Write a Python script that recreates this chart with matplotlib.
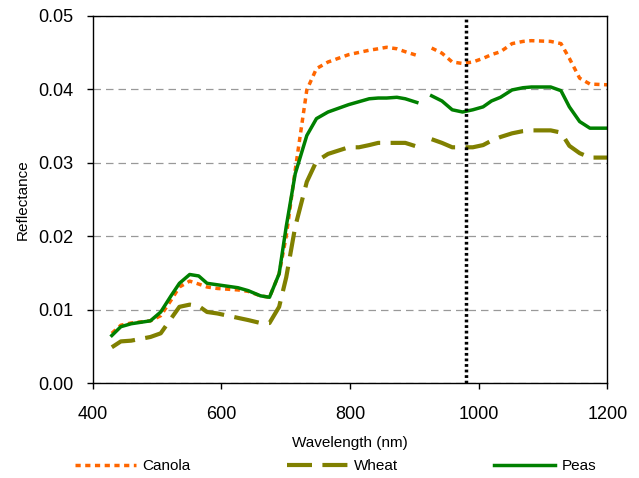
import numpy as np
import matplotlib.pyplot as plt

plt.rcParams['font.family'] = ['Liberation Sans', 'DejaVu Sans']

# wavelength grid (nm); nan marks the break in the spectra around 915 nm
wavelength = [430, 444, 460, 490, 506, 522, 535, 551, 565, 578, 594, 610, 626, 642, 661, 675,
              690, 701, 715, 733, 748, 766, 798, 814, 830, 844, 857, 873, 886, 904, 915,
              927, 943, 959, 975, 991, 1007, 1020, 1034, 1052, 1069, 1082, 1112, 1128, 1141,
              1157, 1173, 1200]

canola = [0.0068, 0.0079, 0.0082, 0.0085, 0.0092, 0.0113, 0.0131, 0.0139, 0.0135, 0.0131,
          0.0129, 0.0128, 0.0127, 0.0125, 0.0119, 0.0117, 0.0149, 0.0200, 0.0290, 0.0399,
          0.0428, 0.0437, 0.0447, 0.0450, 0.0453, 0.0455, 0.0457, 0.0455, 0.0451, 0.0446,
          np.nan, 0.0456, 0.0449, 0.0437, 0.0435, 0.0437, 0.0442, 0.0447, 0.0451, 0.0462,
          0.0465, 0.0466, 0.0465, 0.0462, 0.0442, 0.0415, 0.0407, 0.0406]

wheat = [0.0049, 0.0057, 0.0058, 0.0063, 0.0068, 0.0088, 0.0104, 0.0107, 0.0105, 0.0097,
         0.0095, 0.0092, 0.0089, 0.0086, 0.0082, 0.0082, 0.0104, 0.0144, 0.0213, 0.0274,
         0.0302, 0.0312, 0.0321, 0.0321, 0.0324, 0.0327, 0.0327, 0.0327, 0.0327, 0.0322,
         np.nan, 0.0332, 0.0327, 0.0321, 0.0321, 0.0321, 0.0324, 0.0330, 0.0335, 0.0340,
         0.0343, 0.0344, 0.0344, 0.0341, 0.0323, 0.0313, 0.0307, 0.0307]

peas = [0.0065, 0.0077, 0.0081, 0.0085, 0.0097, 0.0119, 0.0136, 0.0148, 0.0146, 0.0136,
        0.0134, 0.0132, 0.0130, 0.0126, 0.0119, 0.0117, 0.0149, 0.0213, 0.0285, 0.0337,
        0.0360, 0.0369, 0.0379, 0.0383, 0.0387, 0.0388, 0.0388, 0.0389, 0.0387, 0.0382,
        np.nan, 0.0391, 0.0384, 0.0372, 0.0369, 0.0372, 0.0376, 0.0384, 0.0389, 0.0399,
        0.0402, 0.0403, 0.0403, 0.0398, 0.0376, 0.0356, 0.0347, 0.0347]

marker_nm = 981  # dotted reference wavelength

fig = plt.figure(figsize=(6.39, 4.78), dpi=100)
ax = fig.add_axes([0.1448, 0.1981, 0.8056, 0.7691])

ax.plot(wavelength, canola, color='#FF6600', lw=2.5, dashes=(1.5, 1.3), label='Canola')
ax.plot(wavelength, wheat, color='#808000', lw=3, dashes=(6, 2.5), label='Wheat')
ax.plot(wavelength, peas, color='#008000', lw=2.5, label='Peas')
ax.plot([marker_nm, marker_nm], [0, 0.05], color='black', lw=2.5, dashes=(0.8, 0.8))

ax.set_xlim(400, 1200)
ax.set_ylim(0, 0.05)
ax.set_xticks([400, 600, 800, 1000, 1200])
ax.set_yticks([0, 0.01, 0.02, 0.03, 0.04, 0.05])
ax.set_yticklabels(['0.00', '0.01', '0.02', '0.03', '0.04', '0.05'])
ax.tick_params(labelsize=13, direction='out', length=4, width=1)
ax.tick_params(axis='x', pad=12)
ax.tick_params(axis='y', pad=10)
ax.yaxis.grid(True, color='#999999', ls=(0, (6, 4)), lw=0.9)
ax.set_axisbelow(True)
for s in ax.spines.values():
    s.set_linewidth(1)
ax.set_xlabel('Wavelength (nm)', fontsize=11, labelpad=10)
ax.set_ylabel('Reflectance', fontsize=11, labelpad=6)

fig.legend(loc='center', bbox_to_anchor=(0.525, 0.025), ncol=3, frameon=False, fontsize=11,
           handlelength=4.0, handletextpad=0.4, columnspacing=6.3)

fig.savefig('out.png', dpi=100)
